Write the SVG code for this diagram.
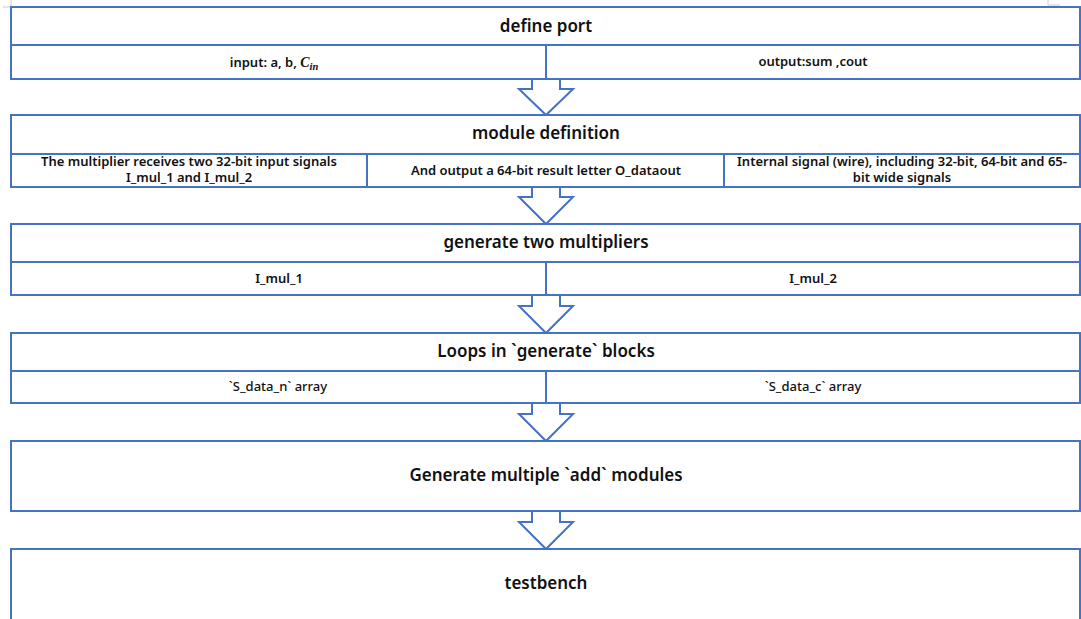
<svg xmlns="http://www.w3.org/2000/svg" width="1081" height="619" viewBox="0 0 1081 619">
<style>
.box{fill:#fff;stroke:#4472C4;stroke-width:2}
.ln{stroke:#4472C4;stroke-width:2;fill:none}
.arr{fill:#fff;stroke:#4472C4;stroke-width:2;stroke-linejoin:miter}
.t{font-family:"Noto Sans","Liberation Sans",sans-serif;font-size:17px;font-weight:600;fill:#111;text-anchor:middle}
.s{font-family:"Noto Sans","Liberation Sans",sans-serif;font-size:13px;font-weight:600;fill:#111;text-anchor:middle}
.n{font-family:"Noto Sans","Liberation Sans",sans-serif;font-size:13px;font-weight:500;fill:#111;text-anchor:middle}
</style>
<rect width="1081" height="619" fill="#fff"/>
<path d="M3,7 H11 M11,0 V7" stroke="#ccc" stroke-width="1" fill="none"/>
<path d="M1048,0 V5 H1060" stroke="#ccc" stroke-width="1" fill="none"/>
<g id="connectors">
<path class="arr" d="M532,79 V89 H519 L546,115 L573,89 H560 V79"/>
<path class="arr" d="M532,187 V197 H519 L546,224 L573,197 H560 V187"/>
<path class="arr" d="M532,295 V306 H519 L546,333 L573,306 H560 V295"/>
<path class="arr" d="M532,403 V414 H519 L546,441 L573,414 H560 V403"/>
<path class="arr" d="M532,511 V522 H519 L546,549 L573,522 H560 V511"/>
</g>
<g id="define-port">
<rect class="box" x="11" y="7" width="1069" height="72"/>
<path class="ln" d="M11,45 H1080 M546,45 V79"/>
<text class="t" x="546" y="32">define port</text>
<text class="s" x="274" y="67" font-size="12.5">input: a, b, <tspan font-family="'Liberation Serif',serif" font-style="italic" font-size="14">C</tspan><tspan font-family="'Liberation Serif',serif" font-style="italic" font-size="10.5" dy="3">in</tspan></text>
<text class="s" x="813" y="66" font-size="12.5">output:sum ,cout</text>
</g>
<g id="module-definition">
<rect class="box" x="11" y="115" width="1069" height="72"/>
<path class="ln" d="M11,154 H1080 M367,154 V187 M724,154 V187"/>
<text class="t" x="546" y="139">module definition</text>
<text class="s" x="189" y="166">The multiplier receives two 32-bit input signals</text>
<text class="s" x="189" y="182">I_mul_1 and I_mul_2</text>
<text class="s" x="546" y="175">And output a 64-bit result letter O_dataout</text>
<text class="s" x="902" y="166">Internal signal (wire), including 32-bit, 64-bit and 65-</text>
<text class="s" x="902" y="182">bit wide signals</text>
</g>
<g id="generate-multipliers">
<rect class="box" x="11" y="224" width="1069" height="71"/>
<path class="ln" d="M11,262 H1080 M546,262 V295"/>
<text class="t" x="546" y="248">generate two multipliers</text>
<text class="s" x="279" y="283" font-size="14.5">I_mul_1</text>
<text class="s" x="813" y="283" font-size="14.5">I_mul_2</text>
</g>
<g id="loops-generate">
<rect class="box" x="11" y="333" width="1069" height="70"/>
<path class="ln" d="M11,371 H1080 M546,371 V403"/>
<text class="t" x="546" y="357">Loops in `generate` blocks</text>
<text class="n" x="278" y="391">`S_data_n` array</text>
<text class="n" x="813" y="391">`S_data_c` array</text>
</g>
<g id="generate-add">
<rect class="box" x="11" y="441" width="1069" height="70"/>
<text class="t" x="546" y="481">Generate multiple `add` modules</text>
</g>
<g id="testbench">
<rect class="box" x="11" y="549" width="1069" height="75"/>
<text class="t" x="546" y="589">testbench</text>
</g>
</svg>
